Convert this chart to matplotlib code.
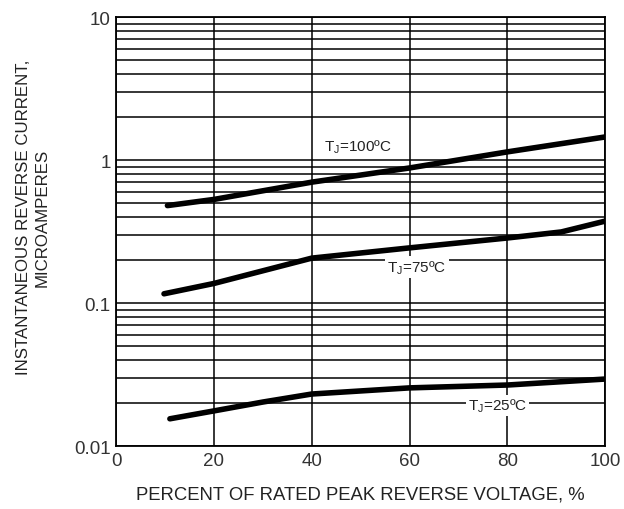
import numpy as np
import matplotlib
matplotlib.use("Agg")
import matplotlib.pyplot as plt
from matplotlib.ticker import LogLocator, FixedLocator, FixedFormatter

plt.rcParams["font.family"] = ["Liberation Sans", "DejaVu Sans"]
plt.rcParams["mathtext.fontset"] = "custom"
plt.rcParams["mathtext.rm"] = "Liberation Sans"

# curves (percent of rated voltage -> microamperes)
x_100 = [10.5, 20, 40, 60, 80, 100]
i_100 = [0.48, 0.53, 0.70, 0.88, 1.14, 1.45]

x_75 = [9.8, 20, 40, 60, 80, 91, 100]
i_75 = [0.116, 0.137, 0.206, 0.243, 0.285, 0.314, 0.374]

x_25 = [11, 20, 30, 40, 60, 80, 100]
i_25 = [0.0155, 0.0176, 0.0203, 0.0231, 0.0255, 0.0267, 0.0294]

labels = ["T$_\\mathregular{J}$=100ºC", "T$_\\mathregular{J}$=75ºC", "T$_\\mathregular{J}$=25ºC"]
label_pos = [(49.5, 1.25), (61.5, 0.178), (78, 0.0192)]

x_ticks = [0, 20, 40, 60, 80, 100]
y_ticks = [0.01, 0.1, 1, 10]
y_ticklabels = ["0.01", "0.1", "1", "10"]

fig = plt.figure(figsize=(6.24, 5.10), dpi=100)
ax = fig.add_axes([0.186, 0.1235, 0.784, 0.8412])

ax.set_yscale("log")
ax.set_xlim(0, 100)
ax.set_ylim(0.01, 10)

ax.xaxis.set_major_locator(FixedLocator(x_ticks))
ax.yaxis.set_major_locator(FixedLocator(y_ticks))
ax.yaxis.set_major_formatter(FixedFormatter(y_ticklabels))
ax.yaxis.set_minor_locator(LogLocator(base=10, subs=np.arange(2, 10)))
ax.yaxis.set_minor_formatter(FixedFormatter([]))

ax.grid(True, which="major", color="black", lw=1.1)
ax.grid(True, which="minor", axis="y", color="black", lw=1.1)
ax.tick_params(which="both", length=0, labelsize=13.5, labelcolor="#333333", pad=4)
for s in ax.spines.values():
    s.set_linewidth(1.3)

for xs, ys in [(x_100, i_100), (x_75, i_75), (x_25, i_25)]:
    ax.plot(xs, ys, color="black", lw=4.0, solid_capstyle="round", zorder=3)

for k, (lab, (lx, ly)) in enumerate(zip(labels, label_pos)):
    bb = None if k == 0 else dict(facecolor="white", edgecolor="none", pad=1.5)
    ax.text(lx, ly, lab, ha="center", va="center", fontsize=11, color="#222222",
            bbox=bb, zorder=4)

ax.set_xlabel("PERCENT OF RATED PEAK REVERSE VOLTAGE, %", fontsize=13.3,
              color="#222222", labelpad=12)
ax.set_ylabel("INSTANTANEOUS REVERSE CURRENT,\nMICROAMPERES", fontsize=12.2,
              color="#222222", linespacing=1.3)
ax.yaxis.set_label_coords(-0.135, 0.535)

fig.savefig("out.png", dpi=100)
